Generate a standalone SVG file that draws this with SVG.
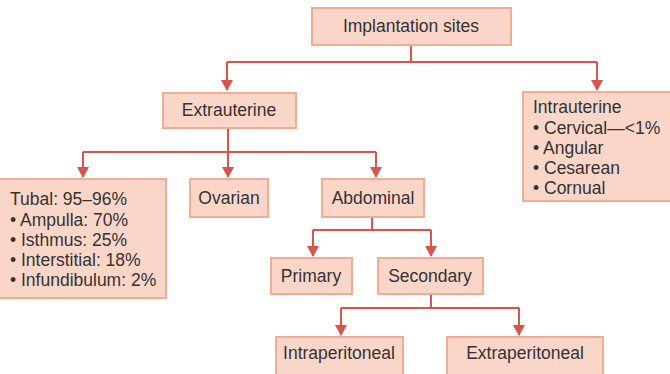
<svg xmlns="http://www.w3.org/2000/svg" width="670" height="374" viewBox="0 0 670 374">
<defs>
<style>
.box{fill:#fad6c9;stroke:#f2ab95;stroke-width:2}
.t{font-family:"Liberation Sans",Arial,sans-serif;font-size:17.5px;fill:#333}
.c{text-anchor:middle}
.ln{fill:none;stroke:#d9544b;stroke-width:2}
</style>
<marker id="ah" markerUnits="userSpaceOnUse" markerWidth="12" markerHeight="12" viewBox="0 0 12 12" refX="6" refY="11" orient="auto-start-reverse">
<path d="M0,0 L12,0 L6,11 Z" fill="#d9544b" transform="rotate(0)"/>
</marker>
</defs>
<rect width="670" height="374" fill="#fff"/>
<g id="connectors">
<path class="ln" d="M411,45 V62 M227,62 H597"/>
<path class="ln" d="M227,62 V90"/>
<path class="ln" d="M597,62 V90"/>
<path class="ln" d="M228,128 V152 M83,152 H376"/>
<path class="ln" d="M83,152 V177"/>
<path class="ln" d="M228,152 V177"/>
<path class="ln" d="M376,152 V177"/>
<path class="ln" d="M372,217 V230 M313,230 H431"/>
<path class="ln" d="M313,230 V256"/>
<path class="ln" d="M431,230 V256"/>
<path class="ln" d="M431,294 V308 M341,308 H519"/>
<path class="ln" d="M341,308 V335"/>
<path class="ln" d="M519,308 V335"/>
<g fill="#d9544b">
<path d="M221,80 L233,80 L227,91 Z"/>
<path d="M591,80 L603,80 L597,91 Z"/>
<path d="M77,167 L89,167 L83,178 Z"/>
<path d="M222,167 L234,167 L228,178 Z"/>
<path d="M370,167 L382,167 L376,178 Z"/>
<path d="M307,246 L319,246 L313,257 Z"/>
<path d="M425,246 L437,246 L431,257 Z"/>
<path d="M335,325 L347,325 L341,336 Z"/>
<path d="M513,325 L525,325 L519,336 Z"/>
</g>
</g>
<g id="implantation-sites">
<rect class="box" x="312" y="8" width="199" height="37"/>
<text class="t c" x="411" y="32">Implantation sites</text>
</g>
<g id="extrauterine">
<rect class="box" x="163" y="93" width="133" height="35"/>
<text class="t c" x="229" y="116">Extrauterine</text>
</g>
<g id="intrauterine">
<rect class="box" x="523" y="92" width="150" height="109"/>
<text class="t" x="533" y="113">Intrauterine</text>
<text class="t" x="533" y="134">• Cervical—&lt;1%</text>
<text class="t" x="533" y="154">• Angular</text>
<text class="t" x="533" y="174">• Cesarean</text>
<text class="t" x="533" y="194">• Cornual</text>
</g>
<g id="tubal">
<rect class="box" x="-2" y="179" width="168" height="119"/>
<text class="t" x="10" y="205">Tubal: 95–96%</text>
<text class="t" x="10" y="226">• Ampulla: 70%</text>
<text class="t" x="10" y="246">• Isthmus: 25%</text>
<text class="t" x="10" y="266">• Interstitial: 18%</text>
<text class="t" x="10" y="286">• Infundibulum: 2%</text>
</g>
<g id="ovarian">
<rect class="box" x="190" y="179" width="78" height="38"/>
<text class="t c" x="229" y="204">Ovarian</text>
</g>
<g id="abdominal">
<rect class="box" x="322" y="179" width="102" height="38"/>
<text class="t c" x="373" y="204">Abdominal</text>
</g>
<g id="primary">
<rect class="box" x="271" y="258" width="81" height="36"/>
<text class="t c" x="311" y="282">Primary</text>
</g>
<g id="secondary">
<rect class="box" x="378" y="258" width="105" height="36"/>
<text class="t c" x="430" y="282">Secondary</text>
</g>
<g id="intraperitoneal">
<rect class="box" x="276" y="337" width="127" height="45"/>
<text class="t c" x="339" y="359">Intraperitoneal</text>
</g>
<g id="extraperitoneal">
<rect class="box" x="447" y="337" width="156" height="45"/>
<text class="t c" x="525" y="359">Extraperitoneal</text>
</g>
</svg>
